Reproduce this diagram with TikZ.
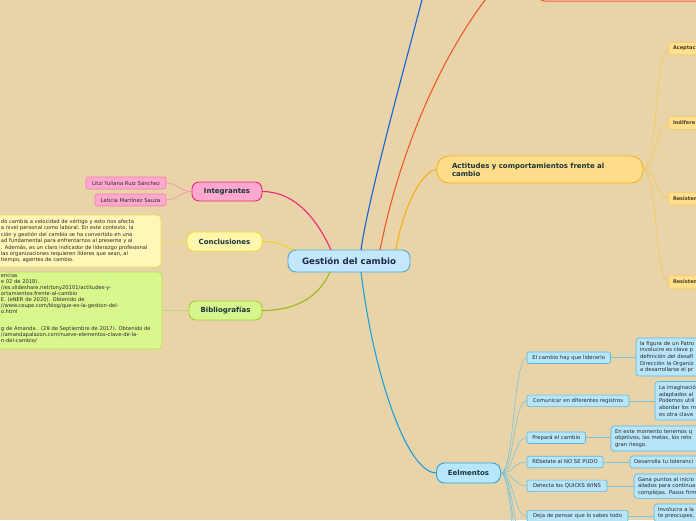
\documentclass[tikz,border=0pt]{standalone}
\usepackage{fontspec}
\setmainfont{DejaVu Sans}
\definecolor{bg}{HTML}{E8D4A8}
\definecolor{cfill}{HTML}{C4E8FB}
\definecolor{cdraw}{HTML}{56A6D6}
\definecolor{ctext}{HTML}{1B2B4B}
\definecolor{pkfill}{HTML}{FFA8CE}
\definecolor{pkdraw}{HTML}{F0257A}
\definecolor{pksubd}{HTML}{F47CAE}
\definecolor{pkconn}{HTML}{F58AB5}
\definecolor{ylfill}{HTML}{FFF7AE}
\definecolor{yldraw}{HTML}{F2DA2E}
\definecolor{ylbox}{HTML}{FFF6B8}
\definecolor{ylboxd}{HTML}{EFD84A}
\definecolor{ylline}{HTML}{F2D22A}
\definecolor{ylconn}{HTML}{F4E07A}
\definecolor{gnfill}{HTML}{D7F58C}
\definecolor{gndraw}{HTML}{A6CF2C}
\definecolor{gnbox}{HTML}{DAF78E}
\definecolor{gnboxd}{HTML}{B9E055}
\definecolor{gnline}{HTML}{9AB91A}
\definecolor{gnconn}{HTML}{C3D870}
\definecolor{acfill}{HTML}{FFDD8A}
\definecolor{acdraw}{HTML}{F6B41C}
\definecolor{acline}{HTML}{F7B016}
\definecolor{acsub}{HTML}{FFE08E}
\definecolor{acsubd}{HTML}{F9CB62}
\definecolor{acconn}{HTML}{F6C95C}
\definecolor{efill}{HTML}{B8E6FA}
\definecolor{edraw}{HTML}{2AA6DF}
\definecolor{eline}{HTML}{1BA0E0}
\definecolor{esub}{HTML}{B8E5F8}
\definecolor{esubd}{HTML}{58B8E2}
\definecolor{econn}{HTML}{7CC4DA}
\definecolor{topblue}{HTML}{1362D8}
\definecolor{toporange}{HTML}{F05A28}
\definecolor{topfill}{HTML}{FDD6C0}
\definecolor{lbl}{HTML}{17353A}
\definecolor{txt}{HTML}{2A2A2A}
\definecolor{actxt}{HTML}{4A3A20}
\begin{document}
\begin{tikzpicture}[x=1pt,y=-1pt,
  every node/.style={inner sep=0pt, outer sep=0pt},
  mainnode/.style={draw, line width=0.9pt, rounded corners=8pt, font=\bfseries\fontsize{7}{8}\selectfont, text=lbl, align=center},
  subnode/.style={draw, line width=0.6pt, rounded corners=2pt, font=\fontsize{5.3}{6.5}\selectfont, text=txt},
  detnode/.style={draw=esubd, fill=esub, line width=0.6pt, rounded corners=3pt, font=\fontsize{5.3}{6.6}\selectfont, text=txt, align=left, anchor=north west, inner xsep=4pt, inner ysep=3pt},
  esubnode/.style={subnode, fill=esub, draw=esubd, anchor=west, minimum height=11.5pt},
  acsubnode/.style={subnode, fill=acsub, draw=acsubd, anchor=west, minimum width=51pt, minimum height=12.5pt, align=left, text width=43pt, inner xsep=4pt, text=actxt, font=\bfseries\fontsize{5}{6}\selectfont},
  bigline/.style={line width=1.1pt},
  smallline/.style={line width=0.6pt},
  bodytext/.style={font=\fontsize{5.2}{6.4}\selectfont, text=txt, align=left, anchor=north west}
]
\useasboundingbox (0,0) rectangle (696,520);
\clip (0,0) rectangle (696,520);
\fill[bg] (0,0) rectangle (696,520);

% top node (mostly off canvas)
\node[draw=toporange, fill=topfill, line width=1pt, rounded corners=8pt, minimum width=183pt, minimum height=81pt] (topnode) at (628.5,-39.5) {};
\coordinate (topbluec) at (428,-25);

% central node
\node[mainnode, fill=cfill, draw=cdraw, minimum width=122pt, minimum height=22pt, font=\bfseries\fontsize{8.7}{10}\selectfont, text=ctext] (center) at (349,261) {Gestión del cambio};

% left branches
\node[mainnode, fill=pkfill, draw=pkdraw, minimum width=70pt, minimum height=19pt, rounded corners=7pt] (integ) at (227,191.5) {Integrantes};
\node[subnode, fill=pkfill, draw=pksubd, minimum width=80pt, minimum height=12pt] (litzi) at (126,183) {Litzi Yuliana Ruiz Sánchez};
\node[subnode, fill=pkfill, draw=pksubd, minimum width=71pt, minimum height=12pt] (leticia) at (130.5,200) {Leticia Martínez Sauza};

\node[mainnode, fill=ylfill, draw=yldraw, minimum width=75pt, minimum height=19pt, rounded corners=7pt] (concl) at (224.5,241.5) {Conclusiones};
\node[draw=ylboxd, fill=ylbox, line width=0.7pt, rounded corners=4pt, minimum width=180pt, minimum height=52pt] (conclbox) at (71,241) {};
\node[bodytext] (concltext) at (1,219.3) {do cambia a velocidad de vértigo y esto nos afecta\\
a nivel personal como laboral. En este contexto, la\\
ción y gestión del cambio se ha convertido en una\\
ad fundamental para enfrentarnos al presente y al\\
. Además, es un claro indicador de liderazgo profesional\\
 las organizaciones requieren líderes que sean, al\\
 tiempo, agentes de cambio.};

\node[mainnode, fill=gnfill, draw=gndraw, minimum width=73pt, minimum height=19pt, rounded corners=7pt] (biblio) at (225.5,310.5) {Bibliografías};
\node[draw=gnboxd, fill=gnbox, line width=0.7pt, rounded corners=4pt, minimum width=181pt, minimum height=77pt] (bibbox) at (71.5,310.5) {};
\node[bodytext, font=\fontsize{5.2}{6}\selectfont] (bibtext) at (1,273.3) {encias\\
e 02 de 2018).\\
//es.slideshare.net/tony20101/actitudes-y-\\
ortamientos-frente-al-cambio\\
E. (eNER de 2020). Obtenido de\\
//www.ceupe.com/blog/que-es-la-gestion-del-\\
o.html\\[11pt]
g de Amanda . (29 de Septiembre de 2017). Obtenido de\\
//amandapalazon.com/nueve-elementos-clave-de-la-\\
n-del-cambio/};

% Actitudes branch
\node[mainnode, fill=acfill, draw=acdraw, minimum width=206pt, minimum height=27pt, rounded corners=12pt, align=left, text width=176pt, inner xsep=15pt] (actit) at (540,169.5) {Actitudes y comportamientos frente al\\cambio};
\node[acsubnode] (acep) at (669,48.5) {Aceptaci};
\node[acsubnode] (indif) at (669,123) {Indifere};
\node[acsubnode] (resa) at (669,198.5) {Resisten};
\node[acsubnode] (resb) at (669,282) {Resisten};

% Eelmentos branch
\node[mainnode, fill=efill, draw=edraw, minimum width=64pt, minimum height=20pt, rounded corners=8pt] (eelm) at (468.5,473) {Eelmentos};
\node[esubnode, minimum width=83.5pt] (e1) at (527,357.75) {El cambio hay que liderarlo};
\node[esubnode, minimum width=102pt] (e2) at (527,400.8) {Comunicar en diferentes registros};
\node[esubnode, minimum width=58.5pt] (e3) at (527,437.7) {Prepará el cambio};
\node[esubnode, minimum width=76pt] (e4) at (527,462) {REbelate al NO SE PUDO};
\node[esubnode, minimum width=80pt] (e5) at (527,485.8) {Detecta los QUICKS WINS};
\node[esubnode, minimum width=101pt] (e6) at (527,516.3) {Deja de pensar que lo sabes todo};
\coordinate (eA) at (527,548);
\coordinate (eB) at (527,578);
\coordinate (eC) at (527,612);

\node[detnode, text width=76pt, minimum height=38pt] (d1) at (636,338) {la figura de un Patro\\involucre es clave p\\definición del desafí\\Dirección la Organiz\\a desarrollarse el pr};
\node[detnode, text width=57pt, minimum height=38.5pt] (d2) at (655,381.5) {La imaginació\\adaptados al\\Podemos utili\\abordar los m\\es otra clave};
\node[detnode, text width=101pt, minimum height=25pt] (d3) at (611,426) {En este momento tenemos q\\objetivos, las metas, los reto\\gran riesgo.};
\node[detnode, text width=82pt, minimum height=12pt] (d4) at (630,456) {Desarrolla tu toleranci};
\node[detnode, text width=78pt, minimum height=24.3pt] (d5) at (634,474) {Gana puntos al inicio\\aliados para continua\\complejas. Pasos firm};
\node[detnode, text width=58pt] (d6) at (654,504) {Involucra a la\\te preocupes,};

% main connectors
\draw[bigline, topblue] ([xshift=12pt]center.north) .. controls +(8,-60) and +(-6,30) .. (topbluec);
\draw[bigline, toporange] ([xshift=31pt]center.north) .. controls (400,150) and (440,60) .. (485,0) .. controls (500,-20) and (520,-39.5) .. (topnode.west);
\draw[bigline, acline] ([xshift=47pt]center.north) .. controls +(6,-40) and +(-15,0) .. (actit.west);
\draw[bigline, eline] ([xshift=12pt]center.south) .. controls +(12,100) and +(-30,0) .. (eelm.west);
\draw[bigline, pkdraw] (integ.east) .. controls +(38,0) and +(-10,-22) .. ([xshift=-18pt]center.north);
\draw[bigline, ylline] (concl.east) .. controls +(18,0) and +(-10,-4) .. ([xshift=-55pt]center.north);
\draw[bigline, gnline] (biblio.east) .. controls +(38,0) and +(-10,22) .. ([xshift=-19pt]center.south);

% secondary connectors
\draw[smallline, pkconn] (integ.west) .. controls +(-12,0) and +(12,0) .. (litzi.east);
\draw[smallline, pkconn] (integ.west) .. controls +(-12,0) and +(12,0) .. (leticia.east);
\draw[smallline, ylconn] (concl.west) -- (concl.west -| conclbox.east);
\draw[smallline, gnconn] (biblio.west) -- (biblio.west -| bibbox.east);
\foreach \n in {acep,indif,resa,resb}
  \draw[smallline, acconn] (actit.east) .. controls +(15,0) and +(-15,0) .. (\n.west);
\foreach \n in {e1,e2,e3,e4,e5,e6,eA,eB,eC}
  \draw[smallline, econn] (eelm.east) .. controls +(14,0) and +(-14,0) .. (\n.west);
\draw[smallline, econn] (e1.east) -- (e1.east -| d1.west);
\draw[smallline, econn] (e2.east) -- (e2.east -| d2.west);
\draw[smallline, econn] (e3.east) -- (e3.east -| d3.west);
\draw[smallline, econn] (e4.east) -- (e4.east -| d4.west);
\draw[smallline, econn] (e5.east) -- (e5.east -| d5.west);
\draw[smallline, econn] (e6.east) -- (e6.east -| d6.west);
\end{tikzpicture}
\end{document}
